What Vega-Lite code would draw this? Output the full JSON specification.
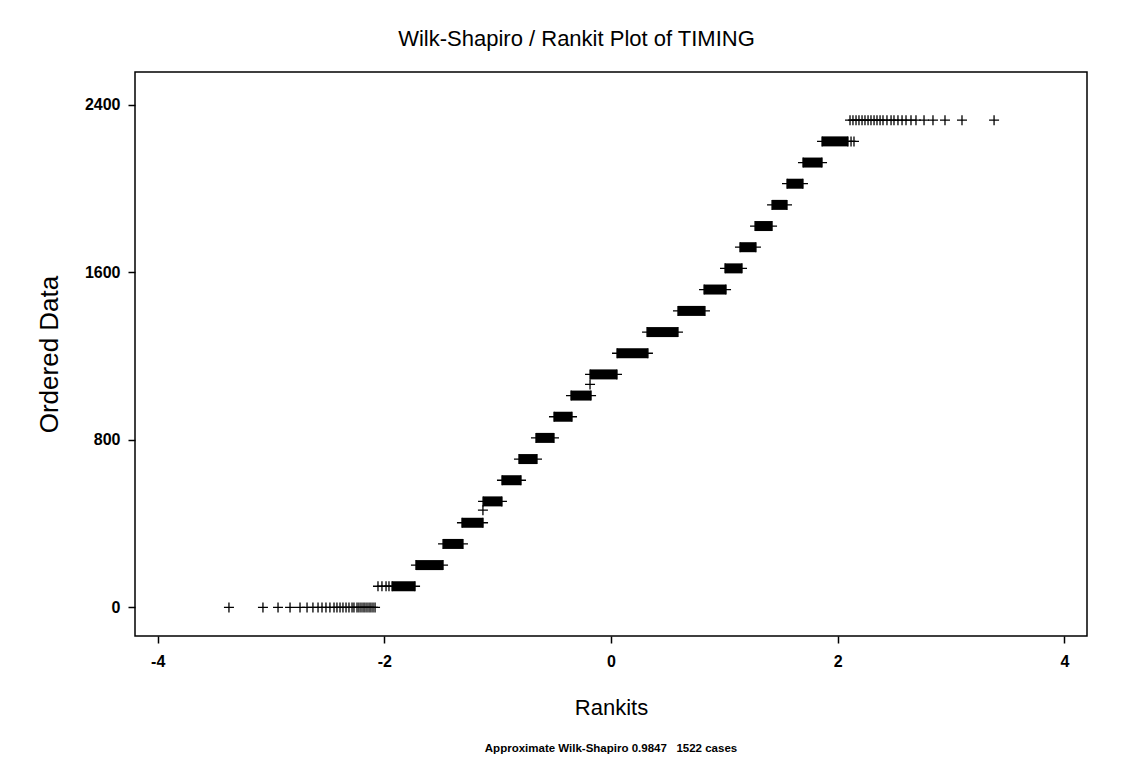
{
  "$schema": "https://vega.github.io/schema/vega-lite/v6.json",
  "width": 952,
  "height": 564,
  "autosize": {"type": "none"},
  "padding": {"left": 135, "top": 72, "right": 48, "bottom": 138},
  "background": "white",
  "config": {
    "view": {"stroke": "black", "strokeWidth": 1.5},
    "axis": {
      "domain": false, "grid": false, "tickColor": "black", "tickWidth": 1.5, "tickSize": 7,
      "labelColor": "black", "labelFont": "Liberation Sans", "labelFontWeight": "bold", "labelFontSize": 16,
      "titleFont": "Liberation Sans", "titleFontWeight": "normal", "titleColor": "black"
    },
    "title": {"font": "Liberation Sans", "color": "black"}
  },
  "title": {"text": "Approximate Wilk-Shapiro 0.9847\u00a0\u00a0\u00a01522 cases", "orient": "bottom", "anchor": "middle", "fontSize": 11.5, "fontWeight": "bold", "offset": 25},
  "datasets": {
    "blocks": [
      {"y": 101, "x1": -1.932, "x2": -1.729},
      {"y": 202, "x1": -1.721, "x2": -1.482},
      {"y": 303, "x1": -1.482, "x2": -1.306},
      {"y": 404, "x1": -1.315, "x2": -1.129},
      {"y": 506, "x1": -1.129, "x2": -0.962},
      {"y": 607, "x1": -0.962, "x2": -0.794},
      {"y": 708, "x1": -0.812, "x2": -0.653},
      {"y": 809, "x1": -0.662, "x2": -0.503},
      {"y": 910, "x1": -0.503, "x2": -0.344},
      {"y": 1011, "x1": -0.353, "x2": -0.176},
      {"y": 1112, "x1": -0.185, "x2": 0.053},
      {"y": 1213, "x1": 0.053, "x2": 0.326},
      {"y": 1314, "x1": 0.318, "x2": 0.591},
      {"y": 1415, "x1": 0.591, "x2": 0.829},
      {"y": 1517, "x1": 0.821, "x2": 1.015},
      {"y": 1618, "x1": 1.006, "x2": 1.156},
      {"y": 1719, "x1": 1.138, "x2": 1.279},
      {"y": 1820, "x1": 1.271, "x2": 1.421},
      {"y": 1921, "x1": 1.421, "x2": 1.553},
      {"y": 2022, "x1": 1.553, "x2": 1.694},
      {"y": 2123, "x1": 1.694, "x2": 1.862},
      {"y": 2224, "x1": 1.862, "x2": 2.091}
    ],
    "points": [
      {"x": -3.371, "y": 0}, {"x": -3.071, "y": 0}, {"x": -2.938, "y": 0}, {"x": -2.832, "y": 0},
      {"x": -2.744, "y": 0}, {"x": -2.682, "y": 0}, {"x": -2.630, "y": 0}, {"x": -2.585, "y": 0},
      {"x": -2.550, "y": 0}, {"x": -2.515, "y": 0}, {"x": -2.480, "y": 0}, {"x": -2.444, "y": 0},
      {"x": -2.418, "y": 0}, {"x": -2.391, "y": 0}, {"x": -2.365, "y": 0}, {"x": -2.338, "y": 0},
      {"x": -2.312, "y": 0}, {"x": -2.285, "y": 0}, {"x": -2.268, "y": 0}, {"x": -2.241, "y": 0},
      {"x": -2.224, "y": 0}, {"x": -2.206, "y": 0}, {"x": -2.188, "y": 0}, {"x": -2.171, "y": 0},
      {"x": -2.153, "y": 0}, {"x": -2.135, "y": 0}, {"x": -2.118, "y": 0}, {"x": -2.100, "y": 0},
      {"x": -2.082, "y": 0},
      {"x": -2.056, "y": 101}, {"x": -2.021, "y": 101}, {"x": -1.985, "y": 101}, {"x": -1.959, "y": 101},
      {"x": -1.130, "y": 464}, {"x": -0.185, "y": 1064},
      {"x": 2.118, "y": 2224}, {"x": 2.144, "y": 2224},
      {"x": 2.109, "y": 2325}, {"x": 2.135, "y": 2325}, {"x": 2.162, "y": 2325}, {"x": 2.188, "y": 2325},
      {"x": 2.215, "y": 2325}, {"x": 2.241, "y": 2325}, {"x": 2.268, "y": 2325}, {"x": 2.294, "y": 2325},
      {"x": 2.321, "y": 2325}, {"x": 2.347, "y": 2325}, {"x": 2.374, "y": 2325}, {"x": 2.400, "y": 2325},
      {"x": 2.435, "y": 2325}, {"x": 2.471, "y": 2325}, {"x": 2.497, "y": 2325}, {"x": 2.532, "y": 2325},
      {"x": 2.568, "y": 2325}, {"x": 2.603, "y": 2325}, {"x": 2.647, "y": 2325}, {"x": 2.691, "y": 2325},
      {"x": 2.762, "y": 2325}, {"x": 2.841, "y": 2325}, {"x": 2.947, "y": 2325}, {"x": 3.097, "y": 2325},
      {"x": 3.380, "y": 2325}
    ]
  },
  "layer": [
    {
      "data": {"name": "blocks"},
      "mark": {"type": "bar", "color": "black", "size": 10},
      "encoding": {
        "x": {"field": "x1", "type": "quantitative", "scale": {"domain": [-4.2, 4.2], "nice": false, "zero": false},
              "axis": {"orient": "bottom", "values": [-4, -2, 0, 2, 4], "labelExpr": "datum.value + ''", "title": "Rankits", "titleFontSize": 22, "labelPadding": 10, "titlePadding": 28}},
        "x2": {"field": "x2"},
        "y": {"field": "y", "type": "quantitative", "scale": {"domain": [-112.5, 2531.25], "nice": false, "zero": false},
              "axis": {"orient": "left", "values": [0, 800, 1600, 2400], "labelExpr": "datum.value + ''", "title": "Ordered Data", "titleFontSize": 26, "labelPadding": 8, "titlePadding": 22}}
      }
    },
    {
      "data": {"name": "blocks"},
      "mark": {"type": "point", "shape": "M-1,0H1M0,-1V1", "filled": false, "stroke": "black", "strokeWidth": 1.3, "size": 100, "opacity": 1},
      "encoding": {
        "x": {"field": "x1", "type": "quantitative", "scale": {"domain": [-4.2, 4.2], "nice": false, "zero": false},
              "axis": {"orient": "top", "labels": false, "ticks": false, "domain": false, "title": "Wilk-Shapiro / Rankit Plot of TIMING", "titleFontSize": 22, "titlePadding": 22, "titleX": 441}},
        "y": {"field": "y", "type": "quantitative", "scale": {"domain": [-112.5, 2531.25], "nice": false, "zero": false},
              "axis": {"orient": "left", "values": [0, 800, 1600, 2400], "labelExpr": "datum.value + ''", "title": "Ordered Data", "titleFontSize": 26, "labelPadding": 8, "titlePadding": 22}}
      }
    },
    {
      "data": {"name": "blocks"},
      "mark": {"type": "point", "shape": "M-1,0H1M0,-1V1", "filled": false, "stroke": "black", "strokeWidth": 1.3, "size": 100, "opacity": 1},
      "encoding": {
        "x": {"field": "x2", "type": "quantitative", "scale": {"domain": [-4.2, 4.2], "nice": false, "zero": false}, "axis": null},
        "y": {"field": "y", "type": "quantitative", "scale": {"domain": [-112.5, 2531.25], "nice": false, "zero": false},
              "axis": {"orient": "left", "values": [0, 800, 1600, 2400], "labelExpr": "datum.value + ''", "title": "Ordered Data", "titleFontSize": 26, "labelPadding": 8, "titlePadding": 22}}
      }
    },
    {
      "data": {"name": "points"},
      "mark": {"type": "point", "shape": "M-1,0H1M0,-1V1", "filled": false, "stroke": "black", "strokeWidth": 1.3, "size": 100, "opacity": 1},
      "encoding": {
        "x": {"field": "x", "type": "quantitative", "scale": {"domain": [-4.2, 4.2], "nice": false, "zero": false}, "axis": null},
        "y": {"field": "y", "type": "quantitative", "scale": {"domain": [-112.5, 2531.25], "nice": false, "zero": false},
              "axis": {"orient": "left", "values": [0, 800, 1600, 2400], "labelExpr": "datum.value + ''", "title": "Ordered Data", "titleFontSize": 26, "labelPadding": 8, "titlePadding": 22}}
      }
    }
  ],
  "resolve": {"axis": {"x": "independent"}}
}
